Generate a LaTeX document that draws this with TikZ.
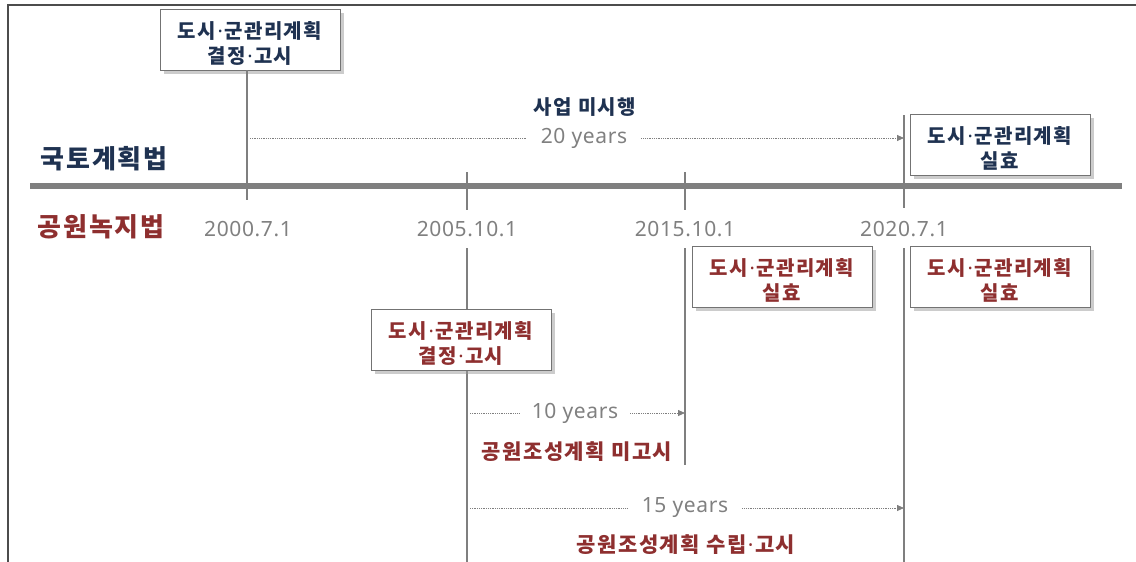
\documentclass[tikz,border=0pt]{standalone}
\usepackage{fontspec}
\setmainfont{Noto Sans CJK KR}[LetterSpace=7]
\newfontfamily\latinf{Noto Sans}[LetterSpace=3]
\newfontfamily\dotf{Noto Sans}
\newcommand{\md}{{\dotf\bfseries\kern1.5pt·\kern1.5pt}}
\newcommand{\tstrut}{\rule{0pt}{24pt}}
\usetikzlibrary{arrows.meta,shadows}
\definecolor{navy}{HTML}{1F3251}
\definecolor{dred}{HTML}{8E2F2F}
\definecolor{lgray}{HTML}{7F7F7F}
\definecolor{tgray}{HTML}{808080}
\begin{document}
\begin{tikzpicture}[x=1pt,y=-1pt,
  box/.style={draw=black!55, line width=0.8pt, fill=white, minimum width=180pt,
    minimum height=61pt, align=center, inner sep=0pt,
    font=\fontsize{20}{25}\selectfont\bfseries,
    drop shadow={shadow xshift=3.5pt, shadow yshift=-3.5pt, fill=black!40}},
  vline/.style={draw=lgray, line width=2.5pt},
  dline/.style={draw=lgray, line width=0.8pt, densely dotted},
  arr/.style={dline, -{Triangle[length=7pt,width=6pt]}},
  date/.style={text=tgray, font=\latinf\fontsize{21}{25}\selectfont, inner sep=0pt},
  yrs/.style={text=tgray, font=\latinf\fontsize{21}{25}\selectfont, inner sep=0pt},
  lbl/.style={font=\fontsize{21}{25}\selectfont\bfseries, inner sep=0pt},
  law/.style={font=\fontsize{26}{30}\selectfont\bfseries, inner sep=0pt}]
\useasboundingbox (0,0) rectangle (1136,562);
% frame
\coordinate (fbl) at (8,562);
\coordinate (ftl) at (8,5);
\coordinate (ftr) at (1136,5);
\draw[line width=2pt, black!70] (fbl) -- (ftl) -- (ftr);
% main axis
\coordinate (axL) at (30,186);
\coordinate (axR) at (1122,186);
\draw[lgray, line width=6pt] (axL) -- (axR);
% vertical lines
\coordinate (v1b) at (247,200);
\coordinate (v2t) at (467,172); \coordinate (v2m) at (467,210);
\coordinate (v2l) at (467,248); \coordinate (v2b) at (467,562);
\coordinate (v3t) at (685,172); \coordinate (v3m) at (685,210);
\coordinate (v3l) at (685,248); \coordinate (v3b) at (685,465);
\coordinate (v4t) at (904,115); \coordinate (v4m) at (904,208);
\coordinate (v4l) at (904,248); \coordinate (v4b) at (904,562);
\draw[vline] (v2t) -- (v2m);
\draw[vline] (v2l) -- (v2b);
\draw[vline] (v3t) -- (v3m);
\draw[vline] (v3l) -- (v3b);
\draw[vline] (v4t) -- (v4m);
\draw[vline] (v4l) -- (v4b);
% boxes
\node[box, text=navy] (b1) at (250,39.5) {\tstrut 도시\md 군관리계획\\결정\md 고시};
\draw[vline] (v1b |- b1.south) -- (v1b);
\node[box, text=navy] (btr) at (1000,145) {\tstrut 도시\md 군관리계획\\실효};
\node[box, text=dred] (b2015) at (782,277) {\tstrut 도시\md 군관리계획\\실효};
\node[box, text=dred] (b2020) at (1000,277) {\tstrut 도시\md 군관리계획\\실효};
\node[box, text=dred] (b2005) at (461,339.5) {\tstrut 도시\md 군관리계획\\결정\md 고시};
% law names
\node[law, text=navy] (l1) at (104,159) {국토계획법};
\node[law, text=dred] (l2) at (101,227) {공원녹지법};
% dates
\node[date] (d1) at (248,229) {2000.7.1};
\node[date] (d2) at (467,229) {2005.10.1};
\node[date] (d3) at (685,229) {2015.10.1};
\node[date] (d4) at (904,229) {2020.7.1};
% 20 years
\node[lbl, text=navy, font=\fontsize{20}{24}\selectfont\bfseries] (s1) at (585,107) {사업 미시행};
\node[yrs, inner xsep=14pt] (y20) at (584,138) {20 years};
\coordinate (y20s) at (250,138);
\coordinate (y20e) at (904,138);
\draw[dline] (y20s) -- (y20.west);
\draw[arr] (y20.east) -- (y20e);
% 10 years
\node[yrs, inner xsep=12pt] (y10) at (575,413) {10 years};
\coordinate (y10s) at (470,413);
\coordinate (y10e) at (685,413);
\draw[dline] (y10s) -- (y10.west);
\draw[arr] (y10.east) -- (y10e);
\node[lbl, text=dred] (m10) at (577,452) {공원조성계획 미고시};
% 15 years
\node[yrs, inner xsep=14pt] (y15) at (685,508) {15 years};
\coordinate (y15s) at (470,508);
\coordinate (y15e) at (904,508);
\draw[dline] (y15s) -- (y15.west);
\draw[arr] (y15.east) -- (y15e);
\node[lbl, text=dred] (m15) at (686,545) {공원조성계획 수립\md 고시};
\end{tikzpicture}
\end{document}
